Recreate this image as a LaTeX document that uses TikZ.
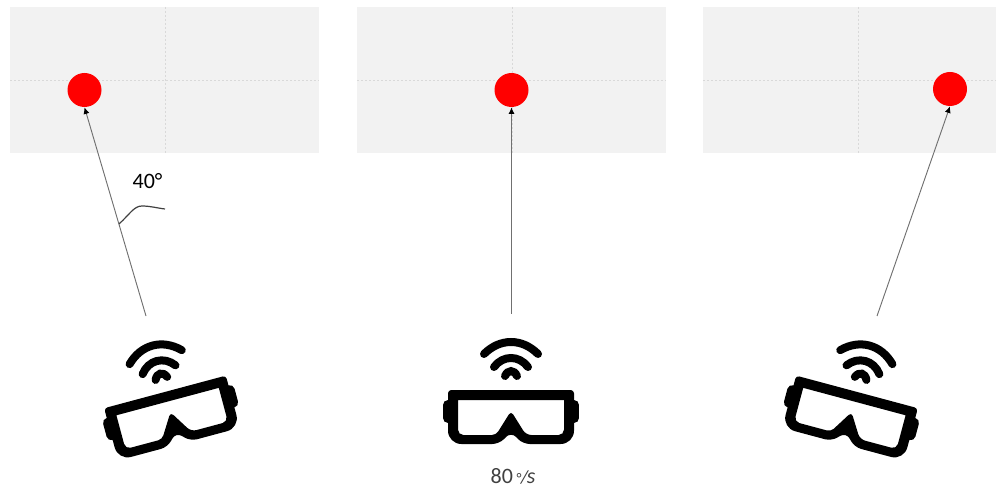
\documentclass[tikz,border=0pt]{standalone}
\usepackage{fontspec}
\setmainfont{Carlito}
\usepackage{amssymb, amsmath}
\usetikzlibrary{calc,arrows.meta}
\definecolor{panel-fill}{HTML}{F2F2F2}
\definecolor{panel-grid}{HTML}{D9D9D9}
\definecolor{dot-red}{HTML}{FF0000}
\definecolor{gaze-line}{HTML}{707070}
\definecolor{label-text}{HTML}{404040}
\tikzset{
    panelbox/.style={fill=panel-fill, draw=none, minimum width=309*0.75pt, minimum height=146*0.75pt, inner sep=0pt, anchor=north west},
    griddash/.style={panel-grid, dash pattern=on 1.5pt off 1.5pt, line width=0.5pt},
    targetdot/.style={circle, fill=dot-red, draw=none, minimum size=34*0.75pt, inner sep=0pt},
    gaze/.style={gaze-line, line width=0.7pt, -{Latex[black,length=5pt,width=4.5pt]}},
    wave/.style={black, line width=6pt, line cap=round},
    strap/.style={black, line width=7.5pt, line cap=round},
    pics/goggles/.style={code={
        % Frame with its lens cut out
        \fill[black, even odd rule]
            [rounded corners=2.5pt] (-63,-27) -- (63,-27)
            [rounded corners=10pt] -- (63,27)
            [rounded corners=5pt] -- (12,27) -- (0,15) -- (-12,27)
            [rounded corners=10pt] -- (-63,27)
            [rounded corners=2.5pt] -- cycle
            [sharp corners] (-53,-17) -- (53,-17)
            [rounded corners=4pt] -- (53,18) -- (15,18)
            [rounded corners=3pt] -- (0,-6) -- (-15,18)
            [rounded corners=4pt] -- (-53,18)
            [sharp corners] -- cycle;
        % Side straps
        \draw[strap] (-63,-12) -- (-63,1);
        \draw[strap] (63,-12) -- (63,1);
        % Signal waves
        \draw[wave] (-27,-63) .. controls (-11,-79) and (11,-79) .. (27,-63);
        \draw[wave] (-17,-50) .. controls (-8,-62) and (8,-62) .. (17,-50);
        \draw[wave] (-6,-41) .. controls (-3,-47.5) and (3,-47.5) .. (6,-41);
    }}
}
\begin{document}
\begin{tikzpicture}[x=0.75pt, y=-0.75pt]
    \useasboundingbox (0,0) rectangle (996,488);

    % Panels with their centre lines
    \foreach \name/\left in {a/10, b/357, c/703} {
        \begin{scope}[shift={(\left, 0)}]
            \node[panelbox] (panel-\name) at (0, 7) {};
            \draw[griddash] (0, 80) -- (309, 80);
            \draw[griddash] (155, 7) -- (155, 153);
        \end{scope}
    }

    % Target dots
    \node[targetdot] (dot-a) at (84.5, 90) {};
    \node[targetdot] (dot-b) at (511.5, 90) {};
    \node[targetdot] (dot-c) at (950, 89) {};

    % Gaze arrows
    \coordinate (eye-a) at (146, 316);
    \coordinate (eye-b) at (511.5, 314);
    \coordinate (eye-c) at (877, 316);
    \draw[gaze] (eye-a) -- (dot-a.south);
    \draw[gaze] (eye-b) -- (dot-b.south);
    \draw[gaze] (eye-c) -- (dot-c.south);

    % Angle mark
    \coordinate (mark-start) at (119, 224);
    \coordinate (mark-end) at (165, 209);
    \draw[label-text, line width=0.9pt] (mark-start) .. controls (130, 214) and (134, 206) .. (142, 206)
        .. controls (150, 206) and (157, 208) .. (mark-end);
    \node[black, font=\fontsize{16.5}{18}\selectfont] (angle-label) at (147.5, 181) {40°};

    % Headsets
    \pic (set-a) at (172, 418) [rotate=15] {goggles};
    \pic (set-b) at (511, 417) {goggles};
    \pic (set-c) at (850, 418) [rotate=-15] {goggles};

    % Speed label
    \node[label-text, font=\fontsize{16.5}{18}\selectfont, inner sep=0pt] (speed-label) at (513, 476)
        {80\,{\fontsize{11}{11}\selectfont°}\kern-0.5pt{\fontsize{14}{14}\selectfont\itshape/}\kern-1pt{\itshape s}};
\end{tikzpicture}
\end{document}
